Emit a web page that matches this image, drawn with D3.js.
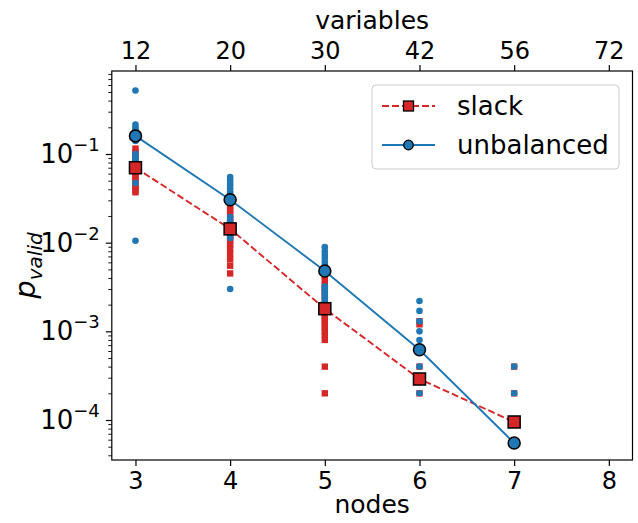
<!DOCTYPE html>
<html>
<head>
<meta charset="utf-8">
<script src="https://cdn.jsdelivr.net/npm/d3@7"></script>
<style>
  html, body { margin: 0; padding: 0; background: #fff; }
  svg { display: block; }
  text { font-family: "DejaVu Sans", sans-serif; fill: #000; }
</style>
</head>
<body>
<svg id="chart" width="638" height="523"></svg>
<script>
// ---------------- data ----------------
const nodes = [3, 4, 5, 6, 7];
const xTicks = [3, 4, 5, 6, 7, 8];
const variableLabels = ["12", "20", "30", "42", "56", "72"];
const yMajorTicks = [1e-4, 1e-3, 1e-2, 1e-1];

// mean curves
const slackMean = [0.07, 0.0143, 0.0018, 0.00029, 0.000095];
const unbalancedMean = [0.16, 0.0305, 0.0048, 0.00062, 0.000055];

// individual runs (slack, red squares)
const slackRuns3 = [0.115, 0.105, 0.097, 0.09, 0.084, 0.078, 0.072, 0.066, 0.061, 0.057, 0.053, 0.049, 0.045, 0.042, 0.039, 0.037];
const slackRuns4 = [0.025, 0.023, 0.021, 0.019, 0.017, 0.016, 0.015, 0.014, 0.013, 0.012, 0.0112, 0.0105, 0.0095, 0.0085, 0.0075, 0.0065, 0.0055, 0.0045];
const slackRuns5 = [0.0042, 0.0038, 0.0034, 0.0031, 0.0028, 0.0025, 0.0022, 0.002, 0.0018, 0.0016, 0.0015, 0.0014, 0.0013, 0.0012, 0.0011, 0.001, 0.0009, 0.0008, 0.0004, 0.0002];
const slackRuns6 = [0.0013, 0.0012, 0.0004, 0.0002];
const slackRuns7 = [0.0004, 0.0002];

// individual runs (unbalanced, blue dots)
const unbalRuns3 = [0.52, 0.215, 0.2, 0.19, 0.18, 0.17, 0.16, 0.15, 0.14, 0.1, 0.093, 0.087, 0.081, 0.076, 0.071, 0.047, 0.0105];
const unbalRuns4 = [0.055, 0.051, 0.047, 0.044, 0.041, 0.038, 0.036, 0.034, 0.032, 0.03, 0.028, 0.0195, 0.018, 0.0165, 0.015, 0.0138, 0.0125, 0.0113, 0.003];
const unbalRuns5 = [0.0089, 0.008, 0.0073, 0.0067, 0.0061, 0.0056, 0.0051, 0.0047, 0.0032, 0.003, 0.0028, 0.0026, 0.0024, 0.0022];
const unbalRuns6 = [0.0022, 0.0017, 0.0013, 0.001, 0.0008, 0.0006, 0.0004, 0.0002];
const unbalRuns7 = [0.0004, 0.0002];

const slackRuns = [slackRuns3, slackRuns4, slackRuns5, slackRuns6, slackRuns7];
const unbalRuns = [unbalRuns3, unbalRuns4, unbalRuns5, unbalRuns6, unbalRuns7];

const RED = "#d62728", BLUE = "#1f77b4";

// ---------------- scales ----------------
const svg = d3.select("#chart");
const L = 111.8, R = 632.5, T = 71, B = 460;
const x = d3.scaleLinear().domain([2.75, 8.25]).range([L, R]);
const y = d3.scaleLog().domain([Math.pow(10, -4.451), Math.pow(10, -0.064)]).range([B, T]);

// ---------------- axes ----------------
const tickFont = 24;

// bottom axis
const gx = svg.append("g").attr("transform", `translate(0,${B})`)
  .call(d3.axisBottom(x).tickValues(xTicks).tickFormat(d3.format("d")).tickSize(6).tickPadding(6));
gx.select(".domain").remove();
gx.selectAll("text").style("font-size", tickFont + "px").attr("font-family", "DejaVu Sans").attr("fill", "#000");
gx.selectAll("line").attr("stroke", "#000").attr("stroke-width", 1.2);

// top axis
const gt = svg.append("g").attr("transform", `translate(0,${T})`)
  .call(d3.axisTop(x).tickValues(xTicks).tickFormat((d, i) => variableLabels[i]).tickSize(6).tickPadding(6));
gt.select(".domain").remove();
gt.selectAll("text").style("font-size", tickFont + "px").attr("font-family", "DejaVu Sans").attr("fill", "#000");
gt.selectAll("line").attr("stroke", "#000").attr("stroke-width", 1.2);

// left axis: major
const gy = svg.append("g").attr("transform", `translate(${L},0)`)
  .call(d3.axisLeft(y).tickValues(yMajorTicks).tickFormat("").tickSize(6));
gy.select(".domain").remove();
gy.selectAll("line").attr("stroke", "#000").attr("stroke-width", 1.2);

// minor ticks
const minor = [];
for (let e = -5; e <= 0; e++) for (let k = 2; k <= 9; k++) {
  const v = k * Math.pow(10, e);
  if (v >= y.domain()[0] && v <= y.domain()[1]) minor.push(v);
}
const gym = svg.append("g").attr("transform", `translate(${L},0)`)
  .call(d3.axisLeft(y).tickValues(minor).tickFormat("").tickSize(3.5));
gym.select(".domain").remove();
gym.selectAll("line").attr("stroke", "#000").attr("stroke-width", 0.9);

// major labels 10^e
yMajorTicks.forEach(v => {
  const e = Math.round(Math.log10(v));
  const t = svg.append("text")
    .attr("x", L - 12).attr("y", y(v) + 9)
    .attr("text-anchor", "end")
    .style("font-size", "26px");
  t.append("tspan").text("10");
  t.append("tspan").attr("dy", -12).style("font-size", "18px").text("\u2212" + Math.abs(e));
});

// frame
svg.append("rect").attr("x", L).attr("y", T).attr("width", R - L).attr("height", B - T)
  .attr("fill", "none").attr("stroke", "#000").attr("stroke-width", 1.2);

// axis titles
svg.append("text").attr("x", (L + R) / 2).attr("y", 513).attr("text-anchor", "middle")
  .style("font-size", "25px").text("nodes");
svg.append("text").attr("x", (L + R) / 2).attr("y", 29).attr("text-anchor", "middle")
  .style("font-size", "25px").text("variables");
const yl = svg.append("text").attr("transform", `translate(35,${(T + B) / 2}) rotate(-90)`)
  .attr("text-anchor", "middle").style("font-size", "29px");
yl.append("tspan").style("font-style", "italic").text("p");
yl.append("tspan").attr("dy", 7).style("font-style", "italic").style("font-size", "20px").text("valid");

// ---------------- marks ----------------
const plot = svg.append("g");

// scatter of runs
const redPts = [], bluePts = [];
nodes.forEach((n, i) => {
  slackRuns[i].forEach(v => redPts.push({ n, v }));
  unbalRuns[i].forEach(v => bluePts.push({ n, v }));
});
plot.selectAll("rect.run").data(redPts).enter().append("rect")
  .attr("class", "run")
  .attr("x", d => x(d.n) - 3.2).attr("y", d => y(d.v) - 3.2)
  .attr("width", 6.4).attr("height", 6.4).attr("fill", RED);
plot.selectAll("circle.run").data(bluePts).enter().append("circle")
  .attr("class", "run")
  .attr("cx", d => x(d.n)).attr("cy", d => y(d.v)).attr("r", 3.3).attr("fill", BLUE);

// mean lines
const line = d3.line().x((d, i) => x(nodes[i])).y(d => y(d));
plot.append("path").datum(slackMean).attr("d", line)
  .attr("fill", "none").attr("stroke", RED).attr("stroke-width", 1.9).attr("stroke-dasharray", "7,3");
plot.selectAll("rect.mean").data(slackMean).enter().append("rect")
  .attr("class", "mean")
  .attr("x", (d, i) => x(nodes[i]) - 6).attr("y", d => y(d) - 6)
  .attr("width", 12).attr("height", 12)
  .attr("fill", RED).attr("stroke", "#000").attr("stroke-width", 1.5);

plot.append("path").datum(unbalancedMean).attr("d", line)
  .attr("fill", "none").attr("stroke", BLUE).attr("stroke-width", 1.9);
plot.selectAll("circle.mean").data(unbalancedMean).enter().append("circle")
  .attr("class", "mean")
  .attr("cx", (d, i) => x(nodes[i])).attr("cy", d => y(d)).attr("r", 6)
  .attr("fill", BLUE).attr("stroke", "#000").attr("stroke-width", 1.5);

// ---------------- legend ----------------
const lg = svg.append("g");
lg.append("rect").attr("x", 372).attr("y", 85).attr("width", 247).attr("height", 84).attr("rx", 4)
  .attr("fill", "#fff").attr("fill-opacity", 0.8).attr("stroke", "#cccccc").attr("stroke-width", 1);
const legendItems = [
  { label: "slack", color: RED, dash: "7,3", shape: "square", cy: 106 },
  { label: "unbalanced", color: BLUE, dash: null, shape: "circle", cy: 145 }
];
legendItems.forEach(it => {
  lg.append("line").attr("x1", 382).attr("x2", 435).attr("y1", it.cy).attr("y2", it.cy)
    .attr("stroke", it.color).attr("stroke-width", 1.9).attr("stroke-dasharray", it.dash);
  if (it.shape === "square") {
    lg.append("rect").attr("x", 408.5 - 5).attr("y", it.cy - 5).attr("width", 10).attr("height", 10)
      .attr("fill", it.color).attr("stroke", "#000").attr("stroke-width", 1.3);
  } else {
    lg.append("circle").attr("cx", 408.5).attr("cy", it.cy).attr("r", 4.8)
      .attr("fill", it.color).attr("stroke", "#000").attr("stroke-width", 1.3);
  }
  lg.append("text").attr("x", 457).attr("y", it.cy + 9).style("font-size", "26px").text(it.label);
});
</script>
</body>
</html>
